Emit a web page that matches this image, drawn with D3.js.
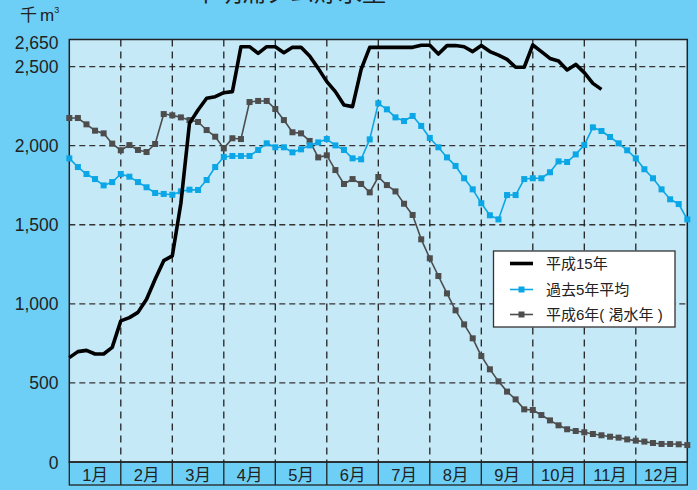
<!DOCTYPE html>
<html><head><meta charset="utf-8">
<script src="https://cdn.jsdelivr.net/npm/d3@7"></script>
<style>
html,body{margin:0;padding:0;background:#6dcff6;}
svg{display:block;}
text{font-family:"Liberation Sans","Noto Sans CJK JP",sans-serif;}
</style></head>
<body>
<script>
const months = ["1月","2月","3月","4月","5月","6月","7月","8月","9月","10月","11月","12月"];
const yTicks = [0,500,1000,1500,2000,2500,2650];
const seriesNames = ["平成15年","過去5年平均","平成6年( 渇水年 )"];
const h15 = [660,698,706,683,683,725,892,913,946,1029,1155,1273,1303,1636,2141,2226,2300,2310,2335,2342,
 2626,2626,2584,2626,2626,2588,2622,2622,2567,2489,2405,2342,2257,2247,2483,2622,2622,2622,2622,2622,
 2622,2635,2635,2580,2633,2633,2626,2595,2633,2595,2573,2546,2496,2496,2637,2595,2552,2536,2479,2514,
 2462,2394,2356];
const avg5 = [1920,1865,1821,1789,1749,1770,1821,1804,1770,1737,1701,1695,1690,1711,1722,1720,1783,1865,1929,1935,
 1935,1935,1973,2015,1990,1990,1958,1977,2002,2021,2042,2002,1973,1920,1914,2040,2268,2230,2179,2156,
 2188,2125,2049,1990,1926,1872,1794,1724,1636,1560,1534,1688,1688,1789,1794,1794,1832,1901,1897,1945,
 2004,2116,2093,2055,2015,1971,1920,1851,1794,1724,1661,1631,1534];
const h6 = [2175,2175,2135,2095,2078,2013,1971,2004,1973,1960,2011,2200,2192,2179,2162,2150,2099,2057,1983,2047,
 2042,2276,2283,2283,2232,2162,2085,2078,2030,1926,1939,1846,1758,1789,1758,1705,1802,1751,1711,1633,
 1562,1408,1288,1176,1066,959,870,782,670,586,510,445,396,333,329,297,263,232,207,196,
 188,177,169,160,154,143,135,129,120,114,114,112,107];

const W=697,H=490;
const L=69.3,R=687.3,T=39.5,B=462,BB=485;
const svg=d3.select("body").append("svg").attr("width",W).attr("height",H);
svg.append("rect").attr("width",W).attr("height",H).attr("fill","#6dcff6");

const x=d3.scaleLinear().domain([0,72]).range([L,R]);
const y=d3.scaleLinear().domain([0,2650]).range([B,42.9]);

// title (cut off at the top in the reference)
svg.append("text").attr("x",290).attr("y",1).attr("text-anchor","middle")
  .attr("font-size",24).attr("fill","#222").text("早明浦ダム貯水量");

// plot background
svg.append("rect").attr("x",L).attr("y",T).attr("width",R-L).attr("height",B-T).attr("fill","#c6e9f8");

// horizontal grid
svg.append("g").selectAll("line").data([500,1000,1500,2000,2500]).join("line")
  .attr("x1",L).attr("x2",R).attr("y1",d=>y(d)).attr("y2",d=>y(d))
  .attr("stroke","#333").attr("stroke-width",1.3).attr("stroke-dasharray","6,4");
// vertical grid
svg.append("g").selectAll("line").data(d3.range(1,12)).join("line")
  .attr("x1",d=>x(d*6)).attr("x2",d=>x(d*6)).attr("y1",T).attr("y2",B)
  .attr("stroke","#222").attr("stroke-width",1.3).attr("stroke-dasharray","7,5");

// month band
svg.append("rect").attr("x",L).attr("y",B).attr("width",R-L).attr("height",BB-B)
  .attr("fill","#6dcff6").attr("stroke","#222").attr("stroke-width",1.3);
svg.append("g").selectAll("line").data(d3.range(1,12)).join("line")
  .attr("x1",d=>x(d*6)).attr("x2",d=>x(d*6)).attr("y1",B).attr("y2",BB)
  .attr("stroke","#222").attr("stroke-width",1.3);
svg.append("g").selectAll("text").data(months).join("text")
  .attr("x",(d,i)=>x(i*6+3)).attr("y",481).attr("text-anchor","middle")
  .attr("font-size",16.5).attr("fill","#222").text(d=>d);

// frame
svg.append("rect").attr("x",L).attr("y",T).attr("width",R-L).attr("height",B-T)
  .attr("fill","none").attr("stroke","#222").attr("stroke-width",1.5);

// y axis labels
const fmt=d3.format(",");
svg.append("g").selectAll("text").data(yTicks).join("text")
  .attr("x",58.5).attr("y",d=>y(d)+6.5).attr("text-anchor","end")
  .attr("font-size",17.5).attr("fill","#222").text(d=>fmt(d));

// unit
const u=svg.append("text").attr("x",20).attr("y",21).attr("font-size",17).attr("fill","#222");
u.append("tspan").text("千");
u.append("tspan").attr("dx",3).text("m");
u.append("tspan").attr("dy",-8).attr("font-size",9).text("3");

// series
const line=d3.line().x((d,i)=>x(i)).y(d=>y(d));
function markerSeries(data,color){
  svg.append("path").datum(data).attr("d",line).attr("fill","none")
    .attr("stroke",color).attr("stroke-width",1.6).attr("stroke-linejoin","round");
  svg.append("g").selectAll("rect").data(data).join("rect")
    .attr("x",(d,i)=>x(i)-3).attr("y",d=>y(d)-3).attr("width",6).attr("height",6).attr("fill",color);
}
markerSeries(h6,"#4d4d4d");
markerSeries(avg5,"#0aa6e6");
svg.append("path").datum(h15).attr("d",line).attr("fill","none")
  .attr("stroke","#000").attr("stroke-width",3.6).attr("stroke-linejoin","round");

// legend
const lg=svg.append("g");
lg.append("rect").attr("x",493.5).attr("y",251).attr("width",181.5).attr("height",76)
  .attr("fill","#fff").attr("stroke","#333").attr("stroke-width",1.3);
const rows=[263.5,289.5,314.5];
const styles=[{c:"#000",w:3.6,m:false},{c:"#0aa6e6",w:1.6,m:true},{c:"#4d4d4d",w:1.6,m:true}];
seriesNames.forEach((n,i)=>{
  const s=styles[i];
  lg.append("line").attr("x1",510).attr("x2",533).attr("y1",rows[i]).attr("y2",rows[i])
    .attr("stroke",s.c).attr("stroke-width",s.w);
  if(s.m) lg.append("rect").attr("x",518.5).attr("y",rows[i]-3).attr("width",6).attr("height",6).attr("fill",s.c);
  lg.append("text").attr("x",546).attr("y",rows[i]+5.5).attr("font-size",15).attr("fill","#222").text(n);
});
</script>
</body></html>
